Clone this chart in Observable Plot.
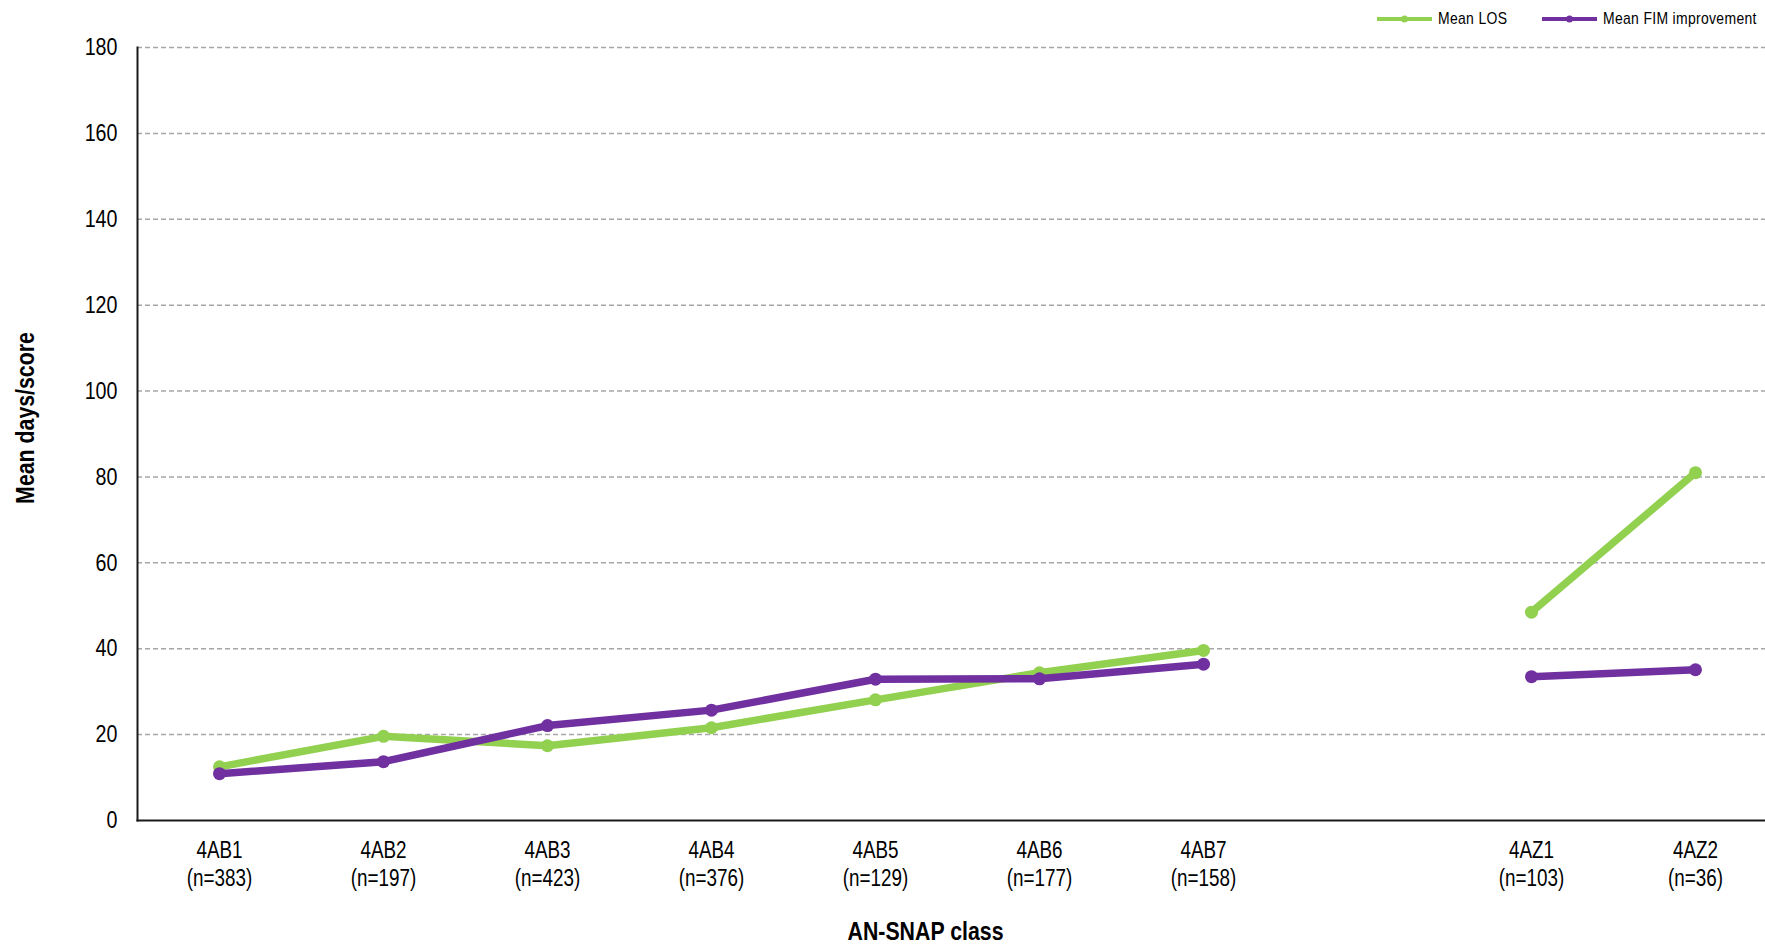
<!DOCTYPE html>
<html>
<head>
<meta charset="utf-8">
<script src="https://cdn.jsdelivr.net/npm/d3@7"></script>
<script src="https://cdn.jsdelivr.net/npm/@observablehq/plot@0.6"></script>
<style>
  html, body { margin: 0; padding: 0; background: #fff; }
  #wrap { position: relative; width: 1765px; height: 944px; }
  .font { font-family: "Liberation Sans", Arial, sans-serif; }
  #legend { position: absolute; top: 0; left: 0; width: 1765px; height: 40px; pointer-events: none; }
  .leg-item { position: absolute; top: 9px; display: flex; align-items: center; font-size: 17px; color: #000; white-space: nowrap; }
  .leg-item svg { margin-right: 6px; flex: none; }
  .leg-item span { display: inline-block; transform: scaleX(0.82); transform-origin: left center; letter-spacing: 0.4px; }
</style>
</head>
<body>
<div id="wrap" class="font">
  <div id="chart"></div>
  <div id="legend"></div>
</div>
<script>
// ---- data ----
const categories = ["4AB1", "4AB2", "4AB3", "4AB4", "4AB5", "4AB6", "4AB7", "gap", "4AZ1", "4AZ2"];
const counts = ["383", "197", "423", "376", "129", "177", "158", "", "103", "36"];
const meanLOS = [12.5, 19.6, 17.4, 21.6, 28.1, 34.4, 39.6, null, 48.5, 81.0];
const meanFIM = [10.9, 13.7, 22.1, 25.7, 32.9, 33.0, 36.4, null, 33.5, 35.1];
const yTicks = [0, 20, 40, 60, 80, 100, 120, 140, 160, 180];
const seriesNames = ["Mean LOS", "Mean FIM improvement"];
const seriesColors = ["#92D050", "#7030A0"];

const FONT = '"Liberation Sans", Arial, sans-serif';
const NARROW = 0.82; // Arial Narrow = Arial compressed horizontally

const losRows = categories.map((c, i) => ({cat: c, series: seriesNames[0], value: meanLOS[i]}));
const fimRows = categories.map((c, i) => ({cat: c, series: seriesNames[1], value: meanFIM[i]}));

const tickLabel = d => {
  const i = categories.indexOf(d);
  if (d === "gap") return "";
  return `${d}\n(n=${counts[i]})`;
};

const chart = Plot.plot({
  width: 1765,
  height: 944,
  marginTop: 47,
  marginBottom: 124,
  marginLeft: 137,
  marginRight: 0,
  style: {fontFamily: FONT, fontSize: "23px", color: "#000", background: "#fff"},
  x: {type: "point", domain: categories, range: [137, 1777], padding: 0.5},
  y: {domain: [0, 180]},
  marks: [
    Plot.gridY(yTicks.filter(t => t > 0), {stroke: "#A6A6A6", strokeOpacity: 1, strokeWidth: 1.5, strokeDasharray: "5,3"}),
    Plot.axisY({ticks: yTicks, tickSize: 0, tickPadding: 20, label: null, fontSize: 24}),
    Plot.axisX({tickSize: 0, tickPadding: 18, tickFormat: tickLabel, lineHeight: 1.22, label: null, fontSize: 23}),
    Plot.frame({anchor: "left", stroke: "#1a1a1a", strokeWidth: 2}),
    Plot.frame({anchor: "bottom", stroke: "#1a1a1a", strokeWidth: 2}),
    Plot.line(losRows, {x: "cat", y: "value", stroke: seriesColors[0], strokeWidth: 7.5, strokeLinejoin: "round"}),
    Plot.dot(losRows, {x: "cat", y: "value", fill: seriesColors[0], r: 6.5}),
    Plot.line(fimRows, {x: "cat", y: "value", stroke: seriesColors[1], strokeWidth: 7.5, strokeLinejoin: "round"}),
    Plot.dot(fimRows, {x: "cat", y: "value", fill: seriesColors[1], r: 6.5}),
    Plot.text(["Mean days/score"], {frameAnchor: "left", textAnchor: "middle", dx: -112, dy: -16, rotate: -90, fontWeight: "bold", fontSize: 26, fill: "#000"}),
    Plot.text(["AN-SNAP class"], {frameAnchor: "bottom", dx: -26, dy: 119, fontWeight: "bold", fontSize: 26, fill: "#000"})
  ]
});

// Compress all text horizontally (narrow typeface look)
d3.select(chart).selectAll("text").each(function () {
  const el = d3.select(this);
  const x = +(el.attr("x") || 0), y = +(el.attr("y") || 0);
  let t = el.attr("transform") || "";
  if (x || y) {
    t = `translate(${x},${y}) ` + t;
    el.attr("x", null).attr("y", null);
  }
  el.attr("transform", `${t} scale(${NARROW},1)`.trim());
});

document.getElementById("chart").appendChild(chart);

// ---- legend ----
const legend = document.getElementById("legend");
const legendLeft = [1377, 1542];
seriesNames.forEach((name, i) => {
  const item = document.createElement("div");
  item.className = "leg-item font";
  item.style.left = legendLeft[i] + "px";
  item.innerHTML = `<svg width="55" height="20"><line x1="0" y1="10" x2="55" y2="10" stroke="${seriesColors[i]}" stroke-width="4"/><circle cx="27.5" cy="10" r="3.5" fill="${seriesColors[i]}"/></svg><span>${name}</span>`;
  legend.appendChild(item);
});
</script>
</body>
</html>
